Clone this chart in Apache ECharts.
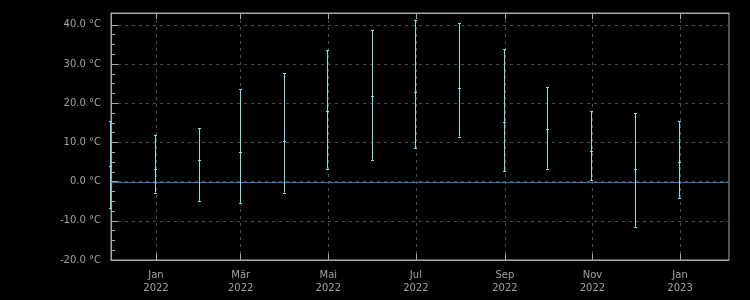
<!DOCTYPE html>
<html>
<head>
<meta charset="utf-8">
<script src="https://cdn.jsdelivr.net/npm/echarts@6/dist/echarts.min.js"></script>
<style>
html,body{margin:0;padding:0;background:#000;}
#chart{width:750px;height:300px;}
</style>
</head>
<body>
<div id="chart"></div>
<script>
// Monthly temperature data (°C): first day of each month
var months = ['2021-12-01','2022-01-01','2022-02-01','2022-03-01','2022-04-01','2022-05-01','2022-06-01','2022-07-01','2022-08-01','2022-09-01','2022-10-01','2022-11-01','2022-12-01','2023-01-01'];
var maxVals  = [15.5, 12.0, 13.6, 23.6, 27.7, 33.6, 38.7, 41.3, 40.5, 33.8, 24.1, 17.9, 17.4, 15.4];
var meanVals = [ 4.0,  3.3,  5.4,  7.5, 10.3, 17.9, 21.8, 22.8, 23.8, 15.1, 13.3,  7.9,  3.1,  4.9];
var minVals  = [-6.7, -2.8, -4.9, -5.4, -2.8,  3.3,  5.6,  8.5, 11.5,  2.6,  3.3,  0.3,-11.5, -4.1];

var xTickDates = ['2022-01-01','2022-03-01','2022-05-01','2022-07-01','2022-09-01','2022-11-01','2023-01-01'];
var monthNames = ['Jan','Feb','Mär','Apr','Mai','Jun','Jul','Aug','Sep','Okt','Nov','Dez'];
var yTicks = [-20,-10,0,10,20,30,40];
var zeroLineY = 0;

function ts(s){ var p = s.split('-'); return Date.UTC(+p[0], +p[1]-1, +p[2]); }
var xTicks = xTickDates.map(ts);
var yMinor = [];
for (var i = 0; i < yTicks.length - 1; i++) {
  for (var k = 1; k < 4; k++) yMinor.push(yTicks[i] + k * (yTicks[i+1]-yTicks[i]) / 4);
}

var data = months.map(function(m, i){ return [ts(m), minVals[i], meanVals[i], maxVals[i]]; });

var axisGray = '#a8a8a8';
var textGray = '#a0a0a0';
var barColor = '#7fe0e0';
var xMin = Date.UTC(2021,10,30,16);
var xMax = Date.UTC(2023,1,4,2);

var chart = echarts.init(document.getElementById('chart'), null, {renderer:'canvas'});
chart.setOption({
  backgroundColor: '#000',
  animation: false,
  grid: { left: 111, right: 21, top: 13, bottom: 40, show: true, borderColor: axisGray, borderWidth: 1, backgroundColor: 'transparent' },
  xAxis: [{
    type: 'value',
    min: xMin, max: xMax,
    position: 'bottom',
    axisLine: { show: true, onZero: false, lineStyle: { color: axisGray } },
    axisTick: { show: true, inside: true, length: 6, lineStyle: { color: axisGray }, customValues: xTicks },
    axisLabel: {
      customValues: xTicks,
      color: textGray, fontFamily: 'DejaVu Sans', fontSize: 10, lineHeight: 13, margin: 9,
      formatter: function(v){ var d = new Date(v); return monthNames[d.getUTCMonth()] + '\n' + d.getUTCFullYear(); }
    },
    splitLine: { show: true, lineStyle: { color: '#4a4a4a', type: [3,4] } }
  },{
    type: 'value',
    min: xMin, max: xMax,
    position: 'top',
    axisLine: { show: true, onZero: false, lineStyle: { color: axisGray } },
    axisTick: { show: true, inside: true, length: 6, lineStyle: { color: axisGray }, customValues: xTicks },
    axisLabel: { show: false },
    splitLine: { show: false }
  }],
  yAxis: [{
    type: 'value',
    min: -20, max: 43,
    position: 'left',
    axisLine: { show: true, onZero: false, lineStyle: { color: axisGray } },
    axisTick: { show: true, inside: true, length: 7, lineStyle: { color: axisGray }, customValues: yTicks },
    axisLabel: {
      customValues: yTicks,
      color: textGray, fontFamily: 'DejaVu Sans', fontSize: 10, margin: 10,
      formatter: function(v){ return v.toFixed(1) + ' °C'; }
    },
    splitLine: { show: true, lineStyle: { color: '#4a4a4a', type: [3,4] } }
  },{
    type: 'value',
    min: -20, max: 43,
    position: 'left',
    axisLine: { show: false, onZero: false },
    axisTick: { show: true, inside: true, length: 4, lineStyle: { color: axisGray }, customValues: yMinor },
    axisLabel: { show: false },
    splitLine: { show: false }
  }],
  series: [{
    type: 'custom',
    xAxisIndex: 0, yAxisIndex: 0,
    silent: true,
    z: 3,
    data: [[xMin, xMax, zeroLineY]],
    encode: { x: [0,1], y: 2 },
    renderItem: function(params, api){
      var p1 = api.coord([api.value(0), api.value(2)]);
      var p2 = api.coord([api.value(1), api.value(2)]);
      var y = Math.round(p1[1]) + 0.5;
      return { type: 'line', shape: { x1: p1[0], y1: y, x2: p2[0], y2: y }, style: { stroke: '#2a78b4', lineWidth: 1 } };
    }
  },{
    type: 'custom',
    xAxisIndex: 0, yAxisIndex: 0,
    clip: false,
    z: 4,
    data: data,
    encode: { x: 0, y: [1,2,3] },
    renderItem: function(params, api){
      var x = api.value(0);
      var pLo = api.coord([x, api.value(1)]);
      var pMid = api.coord([x, api.value(2)]);
      var pHi = api.coord([x, api.value(3)]);
      var cx = Math.round(pLo[0]) - 0.5;
      var st = { stroke: barColor, lineWidth: 1 };
      function cap(y){ y = Math.round(y) + 0.5; return { type: 'line', shape: { x1: cx - 1.5, y1: y, x2: cx + 1.5, y2: y }, style: st }; }
      return {
        type: 'group',
        children: [
          { type: 'line', shape: { x1: cx, y1: pLo[1], x2: cx, y2: pHi[1] }, style: st },
          cap(pLo[1]), cap(pMid[1]), cap(pHi[1])
        ]
      };
    }
  }]
});
</script>
</body>
</html>
